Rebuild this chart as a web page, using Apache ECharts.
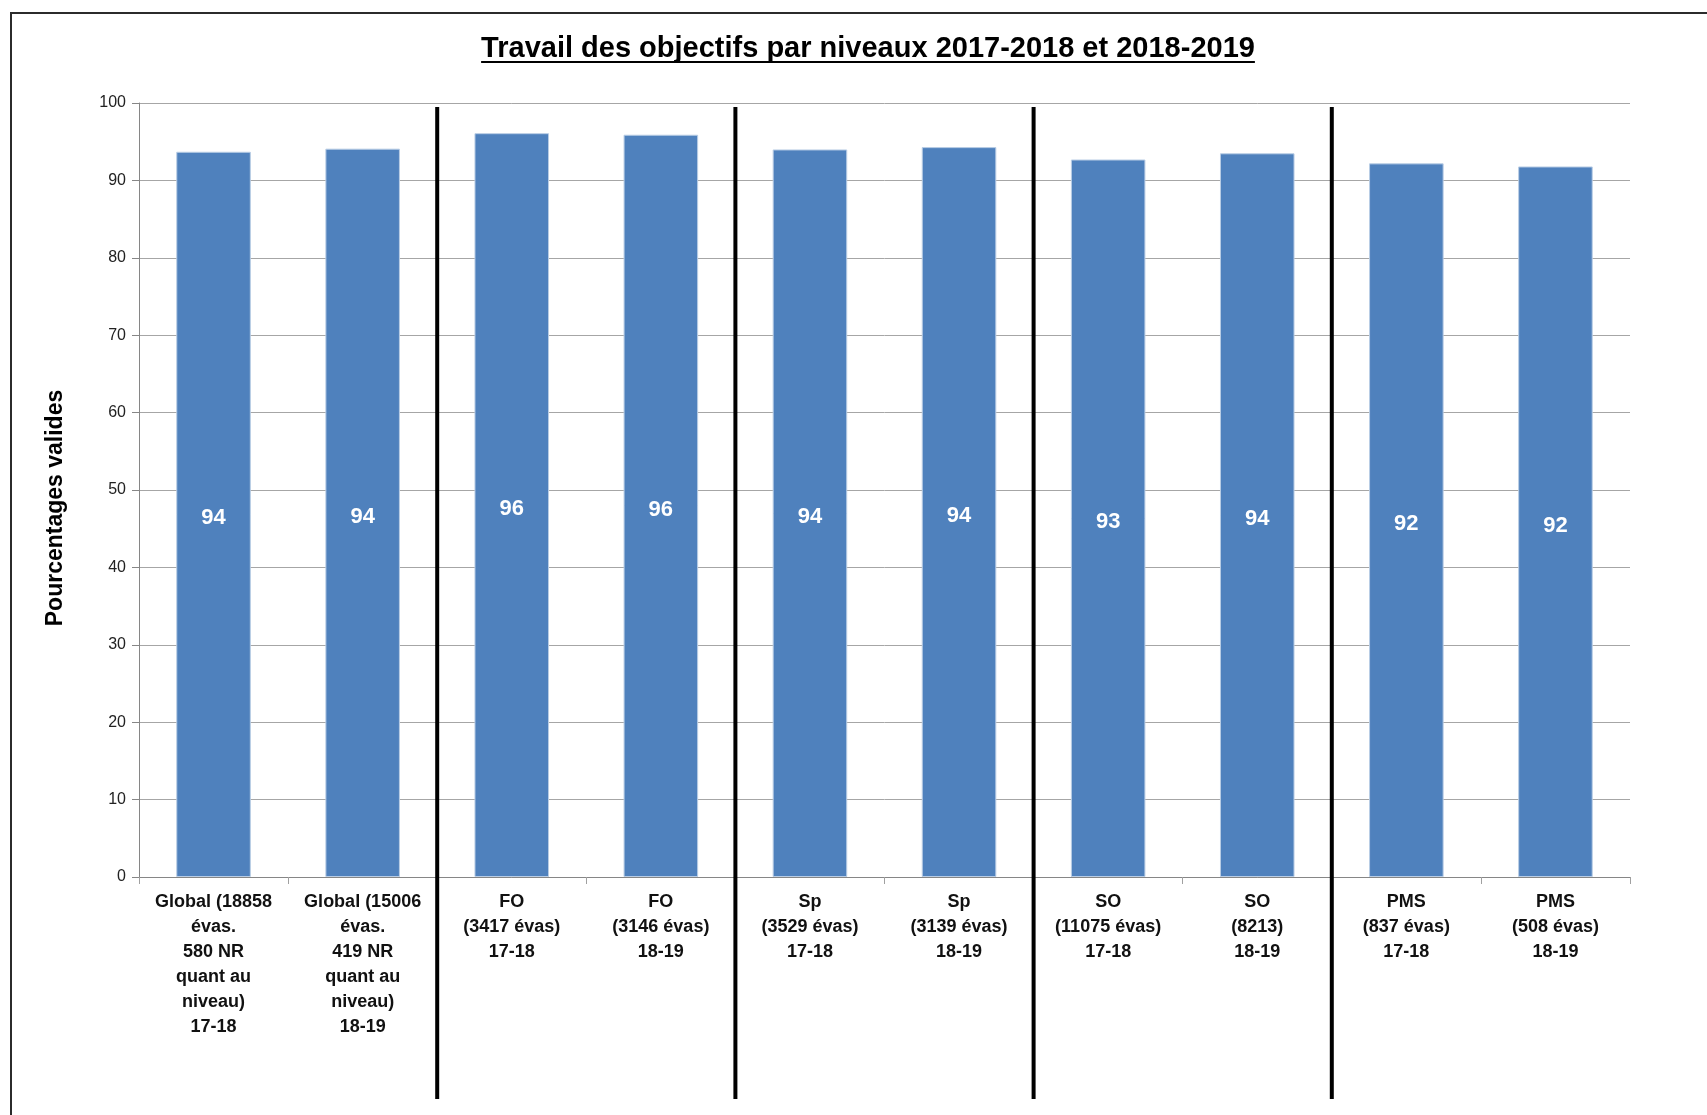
<!DOCTYPE html>
<html>
<head>
<meta charset="utf-8">
<script src="https://cdn.jsdelivr.net/npm/echarts@6/dist/echarts.min.js"></script>
<style>
  html, body { margin: 0; padding: 0; background: #fff; }
  #bar { width: 1707px; height: 1115px; }
</style>
</head>
<body>
<div id="bar"></div>
<script>
const titleText = 'Travail des objectifs par niveaux 2017-2018 et 2018-2019'
const categories = [
    'Global (18858\névas.\n580 NR\nquant au\nniveau)\n17-18',
    'Global (15006\névas.\n419 NR\nquant au\nniveau)\n18-19',
    'FO\n(3417 évas)\n17-18',
    'FO\n(3146 évas)\n18-19',
    'Sp\n(3529 évas)\n17-18',
    'Sp\n(3139 évas)\n18-19',
    'SO\n(11075 évas)\n17-18',
    'SO\n(8213)\n18-19',
    'PMS\n(837 évas)\n17-18',
    'PMS\n(508 évas)\n18-19'
]
const values = [93.7, 94.1, 96.1, 95.9, 94.0, 94.3, 92.7, 93.5, 92.2, 91.8]
// separators after these category indexes (between groups)
const groupEnds = [1, 3, 5, 7]

const font = '"Liberation Sans", Arial, sans-serif'
let myChart = echarts.init(document.getElementById('bar'))

// width of the title, for the underline
let ctx = document.createElement('canvas').getContext('2d')
ctx.font = 'bold 29px ' + font
let titleW = ctx.measureText(titleText).width

myChart.setOption({
    animation: false,
    backgroundColor: '#fff',
    grid: { left: 139, right: 77, top: 103, bottom: 238 },
    xAxis: {
        type: 'category',
        data: categories,
        axisLine: { lineStyle: { color: '#868686', width: 1 } },
        axisTick: { show: true, length: 7, lineStyle: { color: '#a0a0a0' } },
        axisLabel: {
            interval: 0,
            margin: 13,
            color: '#111',
            fontFamily: font,
            fontWeight: 'bold',
            fontSize: 18,
            lineHeight: 25
        }
    },
    yAxis: {
        type: 'value',
        min: 0,
        max: 100,
        interval: 10,
        name: 'Pourcentages valides',
        nameLocation: 'middle',
        nameGap: 72,
        nameTextStyle: {
            fontFamily: font,
            fontWeight: 'bold',
            fontSize: 23,
            color: '#000',
            padding: [0, 36, 0, 0]
        },
        axisLine: { show: true, lineStyle: { color: '#868686' } },
        axisTick: { show: true, length: 7, lineStyle: { color: '#868686' } },
        axisLabel: { color: '#222', fontFamily: font, fontSize: 16, margin: 13 },
        splitLine: { lineStyle: { color: '#a6a6a6', width: 1 } }
    },
    series: [
        {
            type: 'bar',
            data: values,
            barWidth: '50%',
            itemStyle: { color: '#4f81bd', borderColor: '#b9cde5', borderWidth: 1 },
            label: {
                show: true,
                position: 'inside',
                offset: [0, 4],
                color: '#fff',
                fontFamily: font,
                fontWeight: 'bold',
                fontSize: 22,
                formatter: p => Math.round(p.value)
            }
        }
    ]
})

// separators, frame and underlined title
let graphics = [
    {
        type: 'rect',
        shape: { x: 11, y: 13, width: 1800, height: 1200 },
        style: { fill: null, stroke: '#2b2b2b', lineWidth: 2 },
        z: 10
    },
    {
        type: 'text',
        x: 868,
        y: 63,
        style: {
            text: titleText,
            font: 'bold 29px ' + font,
            fill: '#000',
            align: 'center',
            verticalAlign: 'bottom'
        },
        z: 10
    },
    {
        type: 'rect',
        shape: { x: 868 - titleW / 2, y: 61, width: titleW, height: 2 },
        style: { fill: '#000' },
        z: 10
    }
]
groupEnds.forEach(i => {
    let a = myChart.convertToPixel({ xAxisIndex: 0 }, i)
    let b = myChart.convertToPixel({ xAxisIndex: 0 }, i + 1)
    let x = (a + b) / 2
    graphics.push({
        type: 'rect',
        shape: { x: x - 2, y: 107, width: 4, height: 992 },
        style: { fill: '#000' },
        z: 10
    })
})
myChart.setOption({ graphic: graphics })

window.addEventListener('resize', function() {
    myChart.resize()
})
</script>
</body>
</html>
